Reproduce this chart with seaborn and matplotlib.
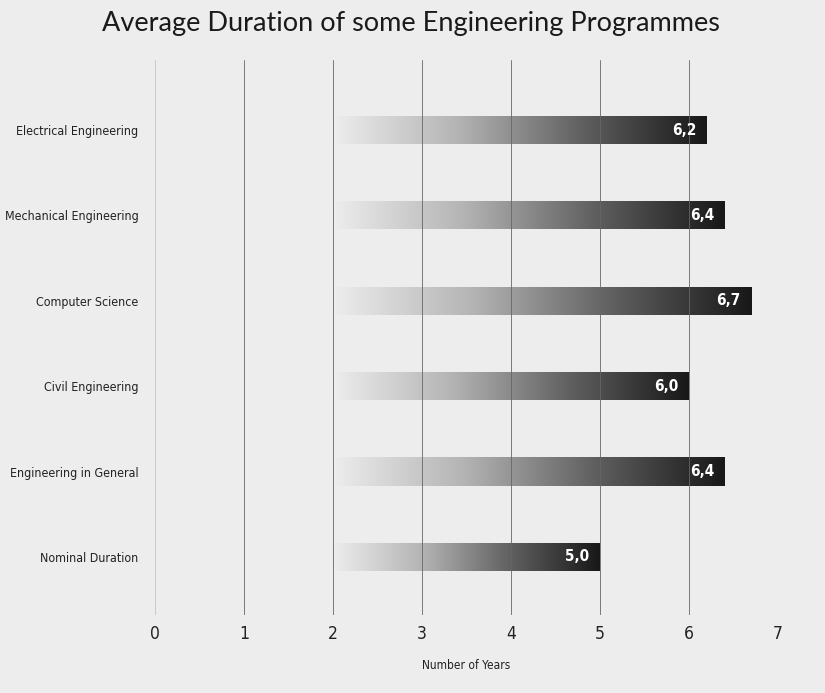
import numpy as np
import matplotlib
matplotlib.use("Agg")
import matplotlib.pyplot as plt
import seaborn as sns
from matplotlib.colors import LinearSegmentedColormap

categories = ["Electrical Engineering", "Mechanical Engineering", "Computer Science",
              "Civil Engineering", "Engineering in General", "Nominal Duration"]
values = [6.2, 6.4, 6.7, 6.0, 6.4, 5.0]
value_labels = ["6,2", "6,4", "6,7", "6,0", "6,4", "5,0"]
x_ticks = [0, 1, 2, 3, 4, 5, 6, 7]
title = "Average Duration of some Engineering Programmes"
xlabel = "Number of Years"
grad_start = 2.0

sns.set_theme(style="white")
bg = "#ededed"
narrow = ["DejaVu Sans"]
plt.rcParams["font.family"] = ["Lato", "DejaVu Sans"]

fig = plt.figure(figsize=(8.25, 6.93), dpi=100, facecolor=bg)
ax = fig.add_axes([155/825, 1-615/693, (778-155)/825, (615-60)/693])
ax.set_facecolor(bg)

sns.barplot(x=values, y=categories, orient="h", width=0.33, ax=ax,
            color="#333333", saturation=1)

cmap = LinearSegmentedColormap.from_list("g", [bg, "#b4b4b4", "#606060", "#181818"])
grad = np.linspace(0, 1, 256).reshape(1, -1)
for i, p in enumerate(ax.patches):
    y0 = p.get_y()
    h = p.get_height()
    v = p.get_width()
    p.set_facecolor("none")
    p.set_edgecolor("none")
    im = ax.imshow(grad, cmap=cmap, aspect="auto", interpolation="bicubic",
                   extent=[grad_start, v, y0 + h, y0], zorder=1)
    im.set_clip_path(p)
    ax.text(v - 0.12, i, value_labels[i], ha="right", va="center", color="white",
            fontsize=11, fontweight="bold", family=narrow, fontstretch="condensed",
            zorder=4)

ax.set_xlim(0, 7)
ax.set_ylim(5.68, -0.82)
ax.set_xticks(x_ticks)
ax.set_xticklabels([str(t) for t in x_ticks], fontsize=12.5, family=narrow,
                   fontstretch="condensed", color="#222222")
ax.tick_params(axis="x", length=0, pad=7)
ax.tick_params(axis="y", length=0, pad=12, labelsize=8.9, labelcolor="#222222")
for lab in ax.get_yticklabels():
    lab.set_family(narrow)
    lab.set_fontstretch("condensed")
ax.set_axisbelow(False)
ax.xaxis.grid(True, color="#666666", linewidth=0.6)
ax.xaxis.get_gridlines()[0].set_color("#c4c4c4")
ax.yaxis.grid(False)
for s in ax.spines.values():
    s.set_visible(False)
ax.set_xlabel(xlabel, fontsize=8.6, family=narrow, fontstretch="condensed",
              color="#222222", labelpad=12)
ax.set_ylabel("")
fig.text(410.5/825, 1 - 23/693, title, ha="center", va="center", fontsize=19.5,
         color="#1a1a1a")

fig.savefig("out.png", dpi=100, facecolor=bg)
